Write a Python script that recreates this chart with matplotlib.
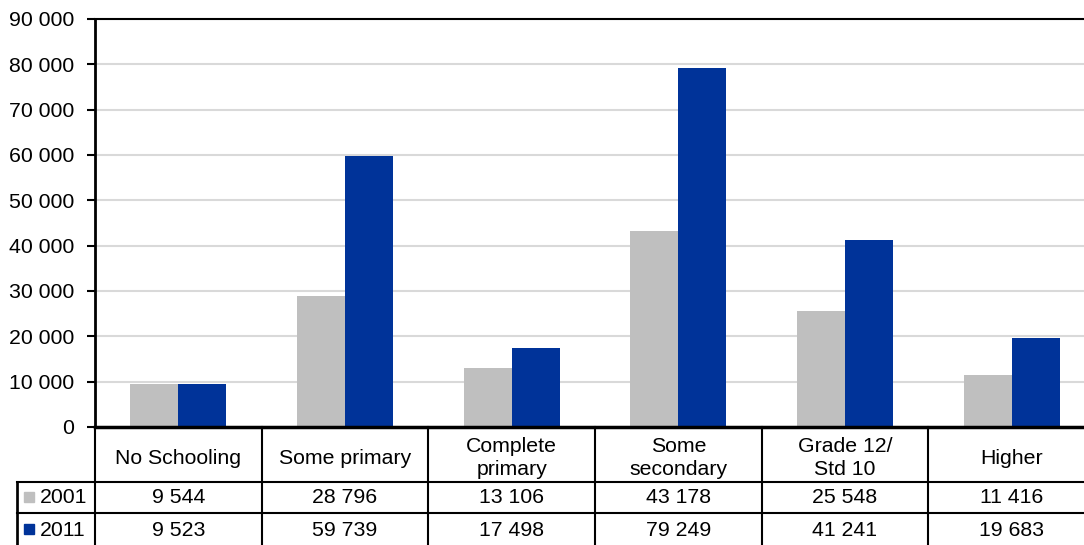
import matplotlib
matplotlib.use("Agg")
import matplotlib.pyplot as plt
import numpy as np
from matplotlib.ticker import FuncFormatter, MultipleLocator

plt.rcParams["font.family"] = ["Liberation Sans", "DejaVu Sans"]

categories = ["No Schooling", "Some primary", "Complete\nprimary",
              "Some\nsecondary", "Grade 12/\nStd 10", "Higher"]
series_names = ["2001", "2011"]
values_2001 = [9544, 28796, 13106, 43178, 25548, 11416]
values_2011 = [9523, 59739, 17498, 79249, 41241, 19683]

C2001 = "#bfbfbf"
C2011 = "#003399"
GRID = "#d9d9d9"
FS = 15.3

W, H = 1084, 545
fig = plt.figure(figsize=(W / 100, H / 100), dpi=100)

# plot area in pixels (right edge runs past the figure, like the original crop)
px_left, px_right, px_top, px_bottom = 95, 1095, 19, 427
ax = fig.add_axes([px_left / W, 1 - px_bottom / H,
                   (px_right - px_left) / W, (px_bottom - px_top) / H])

x = np.arange(len(categories))
bw = 0.2875
ax.bar(x - bw / 2, values_2001, width=bw, color=C2001, zorder=3)
ax.bar(x + bw / 2, values_2011, width=bw, color=C2011, zorder=3)

ax.set_xlim(-0.5, len(categories) - 0.5)
ax.set_ylim(0, 90000)
ax.yaxis.set_major_locator(MultipleLocator(10000))
ax.yaxis.set_major_formatter(FuncFormatter(lambda v, p: f"{int(v):,}".replace(",", " ")))
ax.yaxis.grid(True, color=GRID, linewidth=1.5, zorder=0)
ax.set_xticks([])
ax.tick_params(axis="y", length=6, width=1.5, direction="out", labelsize=FS, pad=9)
for s in ["right", "bottom"]:
    ax.spines[s].set_visible(False)
ax.spines["left"].set_linewidth(2)
ax.spines["top"].set_linewidth(1.5)

# data table below the plot, drawn in pixel rows and category columns
tab_left = 17
unit = (px_right - px_left) / len(categories)
tx = fig.add_axes([tab_left / W, 0, (px_right - tab_left) / W, 1 - px_bottom / H])
tx.set_xlim(-0.5 - (px_left - tab_left) / unit, len(categories) - 0.5)
tx.set_ylim(H, px_bottom)
tx.axis("off")

row_lines = [px_bottom, 482, 513]
lw = 1.5
tx.plot([-0.5, len(categories) - 0.5], [row_lines[0]] * 2, color="black", lw=2.5, clip_on=False)
for yl in row_lines[1:]:
    tx.plot([tx.get_xlim()[0], len(categories) - 0.5], [yl] * 2, color="black", lw=lw, clip_on=False)
for i in range(len(categories)):
    tx.plot([i - 0.5] * 2, [px_bottom, H], color="black", lw=lw, clip_on=False)
tx.plot([tx.get_xlim()[0]] * 2, [482, H], color="black", lw=lw * 1.3, clip_on=False)

for i, c in enumerate(categories):
    tx.text(i, (px_bottom + 482) / 2 + 3.5, c, ha="center", va="center",
            fontsize=FS, linespacing=1.25)

row_y = [497.5, 530]
label_x = tx.get_xlim()[0] + 23 / unit
for yv, name, col, vals in zip(row_y, series_names, [C2001, C2011], [values_2001, values_2011]):
    tx.plot([tx.get_xlim()[0] + 12 / unit], [yv - 1], marker="s", markersize=7,
            color=col, linestyle="none")
    tx.text(label_x, yv, name, ha="left", va="center", fontsize=FS)
    for i, v in enumerate(vals):
        tx.text(i, yv, f"{v:,}".replace(",", " "), ha="center", va="center", fontsize=FS)

fig.savefig("out.png", dpi=100)
